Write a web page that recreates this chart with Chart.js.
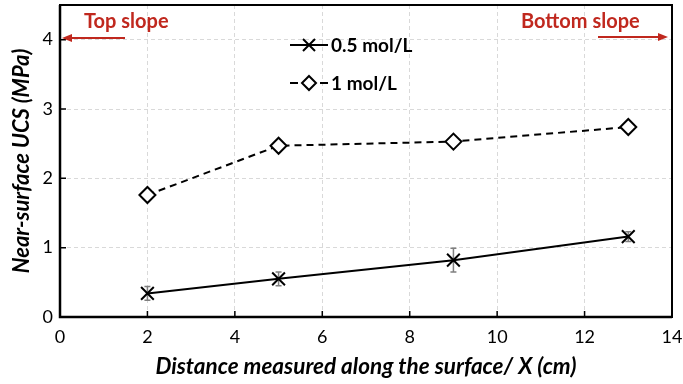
<!DOCTYPE html>
<html>
<head>
<meta charset="utf-8">
<script src="https://cdn.jsdelivr.net/npm/chart.js@4"></script>
<style>
  html, body { margin: 0; padding: 0; background: #fff; }
  #wrap { width: 683px; height: 384px; }
</style>
</head>
<body>
<div id="wrap"><canvas id="ucsChart" width="683" height="384"></canvas></div>
<script>
// data
const distances = [2, 5, 9, 13];
const ucsLow = [0.34, 0.55, 0.82, 1.16];      // 0.5 mol/L
const ucsLowErr = [0.10, 0.10, 0.17, 0.07];
const ucsHigh = [1.76, 2.47, 2.53, 2.74];     // 1 mol/L
const seriesNames = ['0.5 mol/L', '1 mol/L'];
const xTitle = 'Distance measured along the surface/ X (cm)';
const yTitle = 'Near-surface UCS (MPa)';

const FONT = 'Lato, "Open Sans", sans-serif';
const RED = '#c0281e';

// error bars, inward ticks, frame, legend and slope arrows
const extras = {
    id: 'extras',
    beforeDatasetsDraw(chart) {
        const ctx = chart.ctx;
        const xs = chart.scales.x, ys = chart.scales.y;
        ctx.save();
        ctx.strokeStyle = '#7f7f7f';
        ctx.lineWidth = 1.5;
        distances.forEach((d, i) => {
            const px = xs.getPixelForValue(d);
            const top = ys.getPixelForValue(ucsLow[i] + ucsLowErr[i]);
            const bot = ys.getPixelForValue(ucsLow[i] - ucsLowErr[i]);
            ctx.beginPath();
            ctx.moveTo(px, top); ctx.lineTo(px, bot);
            ctx.moveTo(px - 3, top); ctx.lineTo(px + 3, top);
            ctx.moveTo(px - 3, bot); ctx.lineTo(px + 3, bot);
            ctx.stroke();
        });
        ctx.restore();
    },
    afterDraw(chart) {
        const ctx = chart.ctx;
        const a = chart.chartArea;
        const xs = chart.scales.x, ys = chart.scales.y;
        ctx.save();
        // frame
        ctx.strokeStyle = '#000';
        ctx.lineWidth = 2;
        ctx.strokeRect(a.left, a.top, a.right - a.left, a.bottom - a.top);
        ctx.lineWidth = 2.5;
        ctx.beginPath();
        ctx.moveTo(a.left, a.top); ctx.lineTo(a.left, a.bottom); ctx.lineTo(a.right, a.bottom);
        ctx.stroke();
        // inward ticks
        ctx.lineWidth = 1.5;
        ctx.beginPath();
        xs.ticks.forEach(t => {
            const px = xs.getPixelForValue(t.value);
            ctx.moveTo(px, a.bottom); ctx.lineTo(px, a.bottom - 6);
        });
        ys.ticks.forEach(t => {
            const py = ys.getPixelForValue(t.value);
            ctx.moveTo(a.left, py); ctx.lineTo(a.left + 6, py);
        });
        ctx.stroke();

        // legend
        const lx = 290, ly = [45, 83];
        ctx.font = 'bold 19px ' + FONT;
        ctx.textBaseline = 'middle';
        ctx.fillStyle = '#000';
        ctx.strokeStyle = '#000';
        ctx.lineWidth = 2;
        ctx.beginPath();
        ctx.moveTo(lx, ly[0]); ctx.lineTo(lx + 38, ly[0]);
        ctx.stroke();
        ctx.beginPath();
        ctx.moveTo(lx + 13, ly[0] - 6); ctx.lineTo(lx + 25, ly[0] + 6);
        ctx.moveTo(lx + 25, ly[0] - 6); ctx.lineTo(lx + 13, ly[0] + 6);
        ctx.stroke();
        ctx.fillText(seriesNames[0], lx + 41, ly[0] + 1);
        ctx.beginPath();
        ctx.moveTo(lx, ly[1]); ctx.lineTo(lx + 8, ly[1]);
        ctx.moveTo(lx + 30, ly[1]); ctx.lineTo(lx + 38, ly[1]);
        ctx.stroke();
        ctx.beginPath();
        ctx.moveTo(lx + 19, ly[1] - 7); ctx.lineTo(lx + 26, ly[1]);
        ctx.lineTo(lx + 19, ly[1] + 7); ctx.lineTo(lx + 12, ly[1]);
        ctx.closePath();
        ctx.fillStyle = '#fff';
        ctx.fill();
        ctx.stroke();
        ctx.fillStyle = '#000';
        ctx.fillText(seriesNames[1], lx + 41, ly[1] + 1);

        // slope annotations
        ctx.fillStyle = RED;
        ctx.strokeStyle = RED;
        ctx.font = 'bold 20px ' + FONT;
        ctx.textAlign = 'left';
        ctx.fillText('Top slope', 84, 22);
        ctx.fillText('Bottom slope', 521, 22);
        ctx.lineWidth = 2;
        ctx.beginPath();
        ctx.moveTo(125, 38); ctx.lineTo(70, 38);
        ctx.moveTo(598, 37); ctx.lineTo(660, 37);
        ctx.stroke();
        ctx.beginPath();
        ctx.moveTo(62, 38); ctx.lineTo(72, 34); ctx.lineTo(72, 42); ctx.closePath();
        ctx.moveTo(668, 37); ctx.lineTo(658, 33); ctx.lineTo(658, 41); ctx.closePath();
        ctx.fill();
        ctx.restore();
    }
};

new Chart(document.getElementById('ucsChart').getContext('2d'), {
    type: 'scatter',
    data: {
        datasets: [{
            label: seriesNames[0],
            data: distances.map((d, i) => ({ x: d, y: ucsLow[i] })),
            showLine: true,
            borderColor: '#000',
            borderWidth: 2,
            pointStyle: 'crossRot',
            pointRadius: 9,
            pointBorderWidth: 2,
            pointBorderColor: '#000',
            backgroundColor: '#000'
        }, {
            label: seriesNames[1],
            data: distances.map((d, i) => ({ x: d, y: ucsHigh[i] })),
            showLine: true,
            borderColor: '#000',
            borderWidth: 2,
            borderDash: [7, 5],
            pointStyle: 'rectRot',
            pointRadius: 8,
            pointBorderWidth: 2,
            pointBorderColor: '#000',
            pointBackgroundColor: '#fff'
        }]
    },
    options: {
        responsive: false,
        animation: false,
        layout: { autoPadding: false, padding: { top: 5, right: 11, left: 0, bottom: 0 } },
        plugins: { legend: { display: false }, tooltip: { enabled: false } },
        scales: {
            x: {
                type: 'linear',
                min: 0, max: 14,
                ticks: { stepSize: 2, color: '#000', font: { family: FONT, size: 18 }, padding: 9 },
                grid: { color: '#d9d9d9', drawTicks: false },
                border: { display: false, dash: [4, 3] },
                title: { display: true, text: xTitle, color: '#000', font: { family: FONT, size: 22.5, weight: 'bold', style: 'italic' }, padding: { top: 0, bottom: 4 } },
                afterFit(scale) {
                    scale.height = 67;
                    scale.paddingLeft = 0; scale.paddingRight = 0;
                }
            },
            y: {
                min: 0, max: 4.5,
                ticks: { stepSize: 1, includeBounds: false, color: '#000', font: { family: FONT, size: 18 }, padding: 7 },
                grid: { color: '#d9d9d9', drawTicks: false },
                border: { display: false, dash: [4, 3] },
                title: { display: true, text: yTitle, color: '#000', font: { family: FONT, size: 22, weight: 'bold', style: 'italic' }, padding: { top: 9, bottom: 0 } },
                afterFit(scale) {
                    scale.width = 60;
                    scale.paddingTop = 0; scale.paddingBottom = 0;
                }
            }
        }
    },
    plugins: [extras]
});
</script>
</body>
</html>
